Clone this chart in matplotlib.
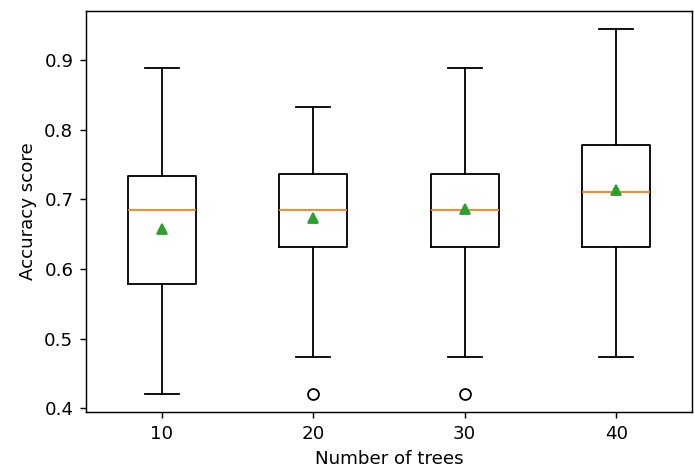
import matplotlib
matplotlib.use("Agg")
import matplotlib.pyplot as plt

labels = ["10", "20", "30", "40"]
whislo = [0.421, 0.474, 0.474, 0.474]
q1 = [0.579, 0.632, 0.632, 0.632]
med = [0.684, 0.684, 0.684, 0.711]
q3 = [0.734, 0.737, 0.737, 0.778]
whishi = [0.889, 0.833, 0.889, 0.944]
means = [0.657, 0.673, 0.686, 0.714]
fliers = [[], [0.421], [0.421], []]

stats = []
for i in range(len(labels)):
    stats.append(dict(label=labels[i], whislo=whislo[i], q1=q1[i], med=med[i],
                      q3=q3[i], whishi=whishi[i], mean=means[i], fliers=fliers[i]))

DPI = 131
fig = plt.figure(figsize=(694/DPI, 470/DPI), dpi=DPI)
ax = fig.add_axes([86/694, 58/470, 606/694, 401/470])
ax.bxp(stats, showmeans=True)
ax.set_xlabel("Number of trees")
ax.set_ylabel("Accuracy score")
ax.set_yticks([0.4, 0.5, 0.6, 0.7, 0.8, 0.9])
fig.savefig("out.png", dpi=DPI)
